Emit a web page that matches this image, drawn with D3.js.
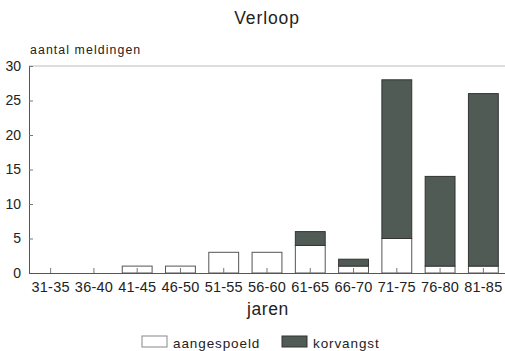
<!DOCTYPE html>
<html><head><meta charset="utf-8">
<script src="https://cdn.jsdelivr.net/npm/d3@7"></script>
<style>body{margin:0;background:#fff}svg{display:block;font-family:"Liberation Sans",Arial,sans-serif}</style>
</head><body><svg id="c" width="505" height="351"></svg>
<script>
const categories = ["31-35","36-40","41-45","46-50","51-55","56-60","61-65","66-70","71-75","76-80","81-85"];
const aangespoeld = [0,0,1,1,3,3,4,1,5,1,1];
const korvangst   = [0,0,0,0,0,0,2,1,23,13,25];
const yTicks = [0,5,10,15,20,25,30];
const seriesNames = ["aangespoeld","korvangst"];
const colors = ["#ffffff","#505b56"];

const svg = d3.select("#c");
const m = {l:29, r:0, t:66, b:78};
const x = d3.scaleBand().domain(categories).range([m.l, 505]).paddingInner(0.31).paddingOuter(0.155);
const y = d3.scaleLinear().domain([0,30]).range([273, 66]);

// title
svg.append("text").attr("x",267).attr("y",24).attr("text-anchor","middle")
  .attr("font-size",17.5).attr("fill","#222").attr("letter-spacing",0.9).text("Verloop");
svg.append("text").attr("x",30).attr("y",54).attr("font-size",12.3).attr("fill","#222")
  .attr("letter-spacing",1.1).text("aantal meldingen");

// top frame line
svg.append("line").attr("x1",m.l).attr("x2",505).attr("y1",y(30)).attr("y2",y(30))
  .attr("stroke","#bbb").attr("stroke-width",1);

// bars
const data = categories.map((c,i)=>({c, a:aangespoeld[i], k:korvangst[i]}));
const g = svg.append("g");
data.forEach(d=>{
  if(d.a>0) g.append("rect").attr("x",x(d.c)).attr("width",x.bandwidth())
     .attr("y",y(d.a)).attr("height",y(0)-y(d.a)).attr("fill",colors[0]).attr("stroke","#555").attr("stroke-width",1);
  if(d.k>0) g.append("rect").attr("x",x(d.c)).attr("width",x.bandwidth())
     .attr("y",y(d.a+d.k)).attr("height",y(d.a)-y(d.a+d.k)).attr("fill",colors[1]).attr("stroke","#333").attr("stroke-width",1);
});

// y axis
const ya = d3.axisLeft(y).tickValues(yTicks).tickSize(-4).tickPadding(8);
const yg = svg.append("g").attr("transform",`translate(${m.l},0)`).call(ya);
yg.select(".domain").attr("stroke","#555");
yg.selectAll(".tick line").attr("stroke","#777");
yg.selectAll("text").attr("font-size",14).attr("fill","#222").attr("font-family","Liberation Sans, Arial, sans-serif");

// x axis
const xa = d3.axisBottom(x).tickSize(-5).tickPadding(9);
const xg = svg.append("g").attr("transform",`translate(0,${y(0)})`).call(xa);
xg.select(".domain").attr("stroke","#555");
xg.selectAll(".tick line").attr("stroke","#777");
xg.selectAll("text").attr("font-size",14.5).attr("fill","#222").attr("letter-spacing",0.2)
  .attr("font-family","Liberation Sans, Arial, sans-serif");

svg.append("text").attr("x",268).attr("y",315).attr("text-anchor","middle")
  .attr("font-size",17.5).attr("fill","#222").attr("letter-spacing",0.6).text("jaren");

// legend
const lg = svg.append("g");
const lx = [142, 282];
seriesNames.forEach((s,i)=>{
  lg.append("rect").attr("x",lx[i]).attr("y",336).attr("width",25).attr("height",11)
    .attr("fill",colors[i]).attr("stroke", i? "#333":"#888");
  lg.append("text").attr("x",lx[i]+31).attr("y",348).attr("font-size",13.5).attr("fill","#222")
    .attr("letter-spacing",0.9).text(s);
});
</script></body></html>
